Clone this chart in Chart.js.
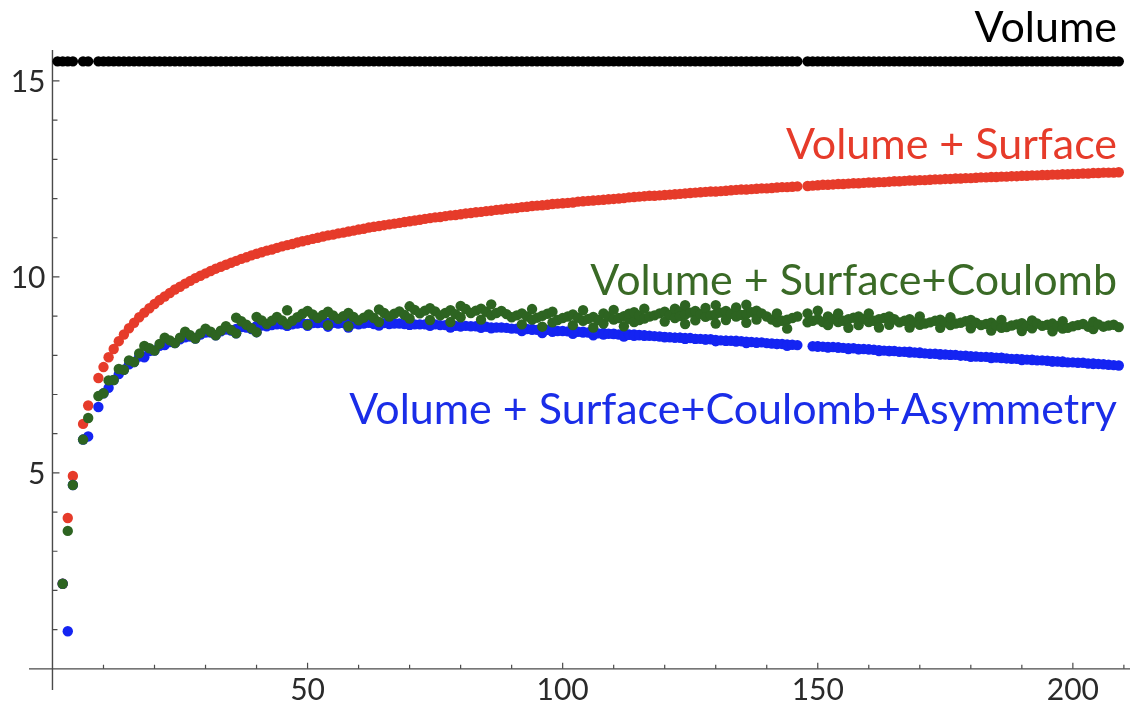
<!DOCTYPE html>
<html>
<head>
<meta charset="utf-8">
<script src="https://cdn.jsdelivr.net/npm/chart.js@4/dist/chart.umd.min.js"></script>
<style>
html,body{margin:0;padding:0;background:#fff;}
#wrap{width:1136px;height:704px;position:relative;}
</style>
</head>
<body>
<div id="wrap"><canvas id="c"></canvas></div>
<script>
// ---- data (mass number A vs binding energy per nucleon, MeV) ----
const massNumbers = [
1,2,3,4,6,7,9,10,11,12,13,14,15,16,17,18,19,20,21,22,23,24,25,26,27,28,29,30,
31,32,33,34,35,36,37,38,39,40,41,42,43,44,45,46,47,48,49,50,51,52,53,54,55,56,57,58,59,60,
61,62,63,64,65,66,67,68,69,70,71,72,73,74,75,76,77,78,79,80,81,82,83,84,85,86,87,88,89,90,
91,92,93,94,95,96,97,98,99,100,101,102,103,104,105,106,107,108,109,110,111,112,113,114,115,116,117,118,119,120,
121,122,123,124,125,126,127,128,129,130,131,132,133,134,135,136,137,138,139,140,141,142,143,144,145,146,148,149,150,
151,152,153,154,155,156,157,158,159,160,161,162,163,164,165,166,167,168,169,170,171,172,173,174,175,176,177,178,179,180,
181,182,183,184,185,186,187,188,189,190,191,192,193,194,195,196,197,198,199,200,201,202,203,204,205,206,207,208,209];

const volumeEnergy = [
15.5,15.5,15.5,15.5,15.5,15.5,15.5,15.5,15.5,15.5,15.5,15.5,15.5,15.5,15.5,15.5,15.5,15.5,15.5,15.5,15.5,15.5,15.5,15.5,15.5,15.5,15.5,15.5,
15.5,15.5,15.5,15.5,15.5,15.5,15.5,15.5,15.5,15.5,15.5,15.5,15.5,15.5,15.5,15.5,15.5,15.5,15.5,15.5,15.5,15.5,15.5,15.5,15.5,15.5,15.5,15.5,15.5,15.5,
15.5,15.5,15.5,15.5,15.5,15.5,15.5,15.5,15.5,15.5,15.5,15.5,15.5,15.5,15.5,15.5,15.5,15.5,15.5,15.5,15.5,15.5,15.5,15.5,15.5,15.5,15.5,15.5,15.5,15.5,
15.5,15.5,15.5,15.5,15.5,15.5,15.5,15.5,15.5,15.5,15.5,15.5,15.5,15.5,15.5,15.5,15.5,15.5,15.5,15.5,15.5,15.5,15.5,15.5,15.5,15.5,15.5,15.5,15.5,15.5,
15.5,15.5,15.5,15.5,15.5,15.5,15.5,15.5,15.5,15.5,15.5,15.5,15.5,15.5,15.5,15.5,15.5,15.5,15.5,15.5,15.5,15.5,15.5,15.5,15.5,15.5,15.5,15.5,15.5,
15.5,15.5,15.5,15.5,15.5,15.5,15.5,15.5,15.5,15.5,15.5,15.5,15.5,15.5,15.5,15.5,15.5,15.5,15.5,15.5,15.5,15.5,15.5,15.5,15.5,15.5,15.5,15.5,15.5,15.5,
15.5,15.5,15.5,15.5,15.5,15.5,15.5,15.5,15.5,15.5,15.5,15.5,15.5,15.5,15.5,15.5,15.5,15.5,15.5,15.5,15.5,15.5,15.5,15.5,15.5,15.5,15.5,15.5,15.5];

const surfaceEnergy = [
null,2.17,3.85,4.92,6.25,6.72,7.42,7.70,7.95,8.16,8.36,8.53,8.69,8.83,8.97,9.09,9.20,9.31,9.41,9.50,9.59,9.68,9.75,9.83,9.90,9.97,10.03,10.09,
10.15,10.21,10.26,10.31,10.36,10.41,10.46,10.50,10.55,10.59,10.63,10.67,10.70,10.74,10.78,10.81,10.84,10.88,10.91,10.94,10.97,11.00,11.03,11.06,11.08,11.11,11.13,11.16,11.18,11.21,
11.23,11.26,11.28,11.30,11.32,11.34,11.36,11.38,11.40,11.42,11.44,11.46,11.48,11.50,11.52,11.53,11.55,11.57,11.58,11.60,11.62,11.63,11.65,11.66,11.68,11.69,11.71,11.72,11.74,11.75,
11.76,11.78,11.79,11.81,11.82,11.83,11.84,11.86,11.87,11.88,11.89,11.90,11.92,11.93,11.94,11.95,11.96,11.97,11.98,11.99,12.00,12.01,12.03,12.04,12.05,12.06,12.07,12.07,12.08,12.09,
12.10,12.11,12.12,12.13,12.14,12.15,12.16,12.17,12.18,12.18,12.19,12.20,12.21,12.22,12.23,12.23,12.24,12.25,12.26,12.26,12.27,12.28,12.29,12.29,12.30,12.31,12.32,12.33,12.34,
12.35,12.35,12.36,12.37,12.37,12.38,12.39,12.39,12.40,12.41,12.41,12.42,12.42,12.43,12.44,12.44,12.45,12.46,12.46,12.47,12.47,12.48,12.49,12.49,12.50,12.50,12.51,12.51,12.52,12.52,
12.53,12.54,12.54,12.55,12.55,12.56,12.56,12.57,12.57,12.58,12.58,12.59,12.59,12.60,12.60,12.61,12.61,12.62,12.62,12.63,12.63,12.64,12.64,12.65,12.65,12.66,12.66,12.66,12.67];

// stable nuclides (isobars appear more than once)
const nuclideMass = [
2,3,4,6,7,9,10,11,12,13,14,15,16,17,18,19,
20,21,22,23,24,25,26,27,28,29,30,31,32,33,34,35,
36,36,37,38,39,40,40,41,42,43,44,45,46,46,47,48,49,
50,50,51,52,53,54,54,55,56,57,58,58,59,60,61,62,63,
64,64,65,66,67,68,69,70,70,71,72,73,74,74,75,76,77,78,78,79,
80,80,81,82,83,84,84,85,86,86,87,88,89,90,91,92,92,93,94,94,95,
96,96,97,98,98,99,100,101,102,102,103,104,104,105,106,106,107,108,108,109,110,110,111,
112,112,113,113,114,114,115,115,116,116,117,118,119,120,120,121,122,122,123,123,
124,124,124,125,126,126,127,128,128,129,130,130,130,131,132,132,133,134,134,135,
136,136,136,137,138,138,139,140,141,142,142,143,144,144,145,146,148,148,149,
150,150,151,152,152,153,154,154,155,156,156,157,158,158,159,160,160,161,162,162,163,164,164,165,
166,167,168,168,169,170,170,171,172,173,174,174,175,176,176,177,178,179,180,180,181,
182,183,184,184,185,186,186,187,188,189,190,190,191,192,192,193,194,195,
196,196,197,198,198,199,200,201,202,203,204,204,205,206,207,208,209];

const coulombEnergy = [
2.17,3.52,4.69,5.85,6.40,6.96,7.03,7.36,7.37,7.65,7.63,7.87,7.83,8.05,8.24,8.18,
8.12,8.29,8.45,8.38,8.31,8.45,8.60,8.51,8.43,8.56,8.68,8.60,8.51,8.63,8.74,8.65,
8.56,8.96,8.87,8.78,8.69,8.59,8.98,8.89,8.80,8.88,8.98,8.89,8.79,9.15,8.88,8.97,9.06,
9.13,8.78,9.04,8.95,9.03,8.77,9.11,9.02,8.93,9.00,8.74,9.08,8.98,8.89,8.96,9.04,8.95,
8.85,9.17,9.08,8.99,9.06,9.12,9.03,8.94,9.25,9.16,9.07,9.14,9.20,8.90,9.12,9.02,9.08,9.15,8.85,9.05,
9.26,8.97,9.18,9.08,9.14,9.19,8.91,9.11,9.02,9.30,9.08,9.13,9.05,8.97,9.02,9.07,8.79,8.99,9.18,8.91,8.96,
9.01,8.73,9.06,9.11,8.84,8.90,8.95,8.99,9.04,8.77,8.96,8.88,9.15,8.93,8.98,8.71,8.90,9.07,8.81,8.99,8.91,9.16,8.95,
9.00,8.74,8.93,9.06,9.10,8.85,8.90,9.02,8.94,9.19,8.99,9.02,9.07,9.11,8.86,9.03,8.95,9.19,9.12,9.00,
9.04,9.28,8.80,9.09,9.13,8.89,9.05,8.98,9.21,9.02,9.05,9.28,8.81,9.09,9.13,8.90,9.06,9.22,8.99,9.03,
9.06,9.29,8.83,9.10,9.14,8.91,9.07,8.99,8.91,8.84,9.07,8.88,8.91,8.68,8.95,8.99,9.07,8.84,8.88,
8.92,9.14,8.85,8.99,8.77,8.92,8.85,9.07,8.88,8.92,8.70,8.96,8.99,8.77,8.92,8.85,9.07,8.88,8.92,8.71,8.95,8.99,8.78,8.92,
8.84,8.88,8.92,8.71,8.84,8.99,8.78,8.81,8.84,8.88,8.91,8.70,8.84,8.77,8.97,8.81,8.83,8.87,8.90,8.69,8.83,
8.77,8.80,8.83,8.63,8.76,8.90,8.70,8.72,8.76,8.79,8.82,8.62,8.75,8.69,8.89,8.81,8.75,8.78,
8.81,8.61,8.74,8.68,8.87,8.70,8.74,8.77,8.80,8.73,8.67,8.86,8.79,8.73,8.76,8.78,8.72];

const asymmetryEnergy = [
2.17,0.96,4.69,5.85,5.93,6.68,7.03,7.17,7.37,7.52,7.63,7.77,7.83,7.97,7.95,8.11,
8.12,8.24,8.26,8.34,8.31,8.41,8.46,8.48,8.43,8.53,8.58,8.58,8.51,8.61,8.66,8.63,
8.56,8.67,8.72,8.71,8.67,8.59,8.75,8.76,8.74,8.77,8.79,8.79,8.75,8.76,8.79,8.81,8.82,
8.80,8.75,8.82,8.82,8.83,8.73,8.83,8.83,8.81,8.82,8.71,8.83,8.81,8.79,8.81,8.83,8.80,
8.76,8.81,8.82,8.80,8.81,8.81,8.80,8.78,8.78,8.79,8.79,8.79,8.78,8.75,8.79,8.77,8.77,8.77,8.71,8.75,
8.74,8.74,8.75,8.74,8.74,8.72,8.70,8.73,8.71,8.69,8.71,8.71,8.70,8.68,8.68,8.68,8.62,8.67,8.67,8.65,8.65,
8.65,8.57,8.65,8.64,8.60,8.62,8.62,8.61,8.61,8.55,8.60,8.58,8.60,8.58,8.58,8.51,8.56,8.57,8.53,8.55,8.54,8.55,8.53,
8.53,8.48,8.52,8.53,8.53,8.50,8.51,8.52,8.50,8.51,8.50,8.49,8.48,8.47,8.46,8.46,8.45,8.45,8.45,8.45,
8.44,8.42,8.42,8.44,8.42,8.42,8.42,8.41,8.40,8.41,8.39,8.36,8.37,8.38,8.37,8.37,8.37,8.35,8.37,8.36,
8.35,8.31,8.33,8.34,8.32,8.33,8.33,8.31,8.30,8.29,8.29,8.29,8.28,8.24,8.27,8.26,null,null,8.23,
8.23,8.22,8.22,8.21,8.20,8.21,8.20,8.20,8.19,8.18,8.16,8.18,8.16,8.15,8.16,8.15,8.15,8.14,8.13,8.11,8.12,8.11,8.11,8.11,
8.09,8.09,8.09,8.07,8.07,8.07,8.06,8.05,8.04,8.04,8.03,8.02,8.02,8.01,8.01,8.01,7.99,7.99,7.98,7.96,7.97,
7.96,7.96,7.95,7.93,7.94,7.94,7.93,7.92,7.91,7.91,7.90,7.88,7.89,7.88,7.89,7.87,7.87,7.86,
7.85,7.84,7.84,7.83,7.84,7.82,7.82,7.81,7.81,7.79,7.78,7.79,7.78,7.77,7.76,7.75,7.74];

const xTickLabels = [50, 100, 150, 200];
const yTickLabels = [5, 10, 15];
const seriesNames = ['Volume', 'Volume + Surface', 'Volume + Surface+Coulomb', 'Volume + Surface+Coulomb+Asymmetry'];

// ---- styles ----
const COLORS = { vol: '#000000', surf: '#E63B2A', coul: '#2D6421', asym: '#1424F2' };
const LABEL_COLORS = ['#000000', '#E63B2A', '#3A6A26', '#1A2DE8'];
const DOT_R = 5.2;
const pts = (xs, ys) => xs.map((x, i) => ({ x: x, y: ys[i] }));

function ds(label, data, color) {
  return {
    type: 'scatter',
    label, data, showLine: false,
    pointStyle: 'circle',
    pointRadius: DOT_R, pointHoverRadius: DOT_R,
    pointBorderWidth: 0,
    backgroundColor: color, borderColor: color, pointBackgroundColor: color, pointBorderColor: color
  };
}

const axesPlugin = {
  id: 'mmaAxes',
  beforeDatasetsDraw(chart) {
    const { ctx, chartArea, scales } = chart;
    const xs = scales.x, ys = scales.y;
    const x0 = xs.getPixelForValue(0), y0 = ys.getPixelForValue(0);
    ctx.save();
    ctx.strokeStyle = '#4a4a4a';
    ctx.lineWidth = 1.4;
    ctx.beginPath();
    ctx.moveTo(chartArea.left, y0); ctx.lineTo(chartArea.right, y0);
    ctx.moveTo(x0, chartArea.top); ctx.lineTo(x0, chartArea.bottom);
    ctx.stroke();
    ctx.lineWidth = 1.2;
    ctx.beginPath();
    for (let v = 10; v <= xs.max; v += 10) {
      const p = xs.getPixelForValue(v);
      const len = xTickLabels.includes(v) ? 6 : 4;
      ctx.moveTo(p, y0); ctx.lineTo(p, y0 - len);
    }
    for (let v = 1; v <= ys.max; v += 1) {
      const p = ys.getPixelForValue(v);
      const len = yTickLabels.includes(v) ? 7 : 5;
      ctx.moveTo(x0, p); ctx.lineTo(x0 + len, p);
    }
    ctx.stroke();
    ctx.fillStyle = '#2a2a2a';
    ctx.font = '30px Lato, "Open Sans", sans-serif';
    ctx.textAlign = 'center';
    ctx.textBaseline = 'alphabetic';
    xTickLabels.forEach(v => ctx.fillText(String(v), xs.getPixelForValue(v), y0 + 31));
    ctx.textAlign = 'right';
    yTickLabels.forEach(v => ctx.fillText(String(v), x0 - 7, ys.getPixelForValue(v) + 11));
    ctx.restore();
  },
  afterDraw(chart) {
    const { ctx } = chart;
    const spots = [
      { right: 1117, base: 42, width: 141 },
      { right: 1117, base: 159, width: 330 },
      { right: 1117, base: 295, width: 530 },
      { right: 1117, base: 424, width: 774 }
    ];
    ctx.save();
    ctx.font = '100px Lato, "Open Sans", sans-serif';
    let ratio = 0;
    seriesNames.forEach((t, i) => { ratio += spots[i].width / ctx.measureText(t).width; });
    const size = 100 * ratio / seriesNames.length;
    ctx.font = size.toFixed(1) + 'px Lato, "Open Sans", sans-serif';
    ctx.textAlign = 'right';
    ctx.textBaseline = 'alphabetic';
    seriesNames.forEach((t, i) => {
      ctx.fillStyle = LABEL_COLORS[i];
      ctx.fillText(t, spots[i].right, spots[i].base);
    });
    ctx.restore();
  }
};

new Chart(document.getElementById('c'), {
  type: 'scatter',
  data: {
    datasets: [
      ds(seriesNames[2], pts(nuclideMass, coulombEnergy), COLORS.coul),
      ds(seriesNames[3], pts(nuclideMass, asymmetryEnergy), COLORS.asym),
      ds(seriesNames[1], pts(massNumbers, surfaceEnergy), COLORS.surf),
      ds(seriesNames[0], pts(massNumbers, volumeEnergy), COLORS.vol)
    ]
  },
  options: {
    responsive: true,
    maintainAspectRatio: false,
    animation: false,
    layout: { padding: { left: 29, right: 6, top: 50, bottom: 14 } },
    datasets: { scatter: { pointRadius: DOT_R } },
    elements: { point: { radius: DOT_R, hoverRadius: DOT_R, borderWidth: 0, pointStyle: 'circle' } },
    plugins: { legend: { display: false }, tooltip: { enabled: false } },
    scales: {
      x: { type: 'linear', min: -4.6, max: 211.2, display: false },
      y: { type: 'linear', min: -0.54, max: 15.79, display: false }
    }
  },
  plugins: [axesPlugin]
});
</script>
</body>
</html>
